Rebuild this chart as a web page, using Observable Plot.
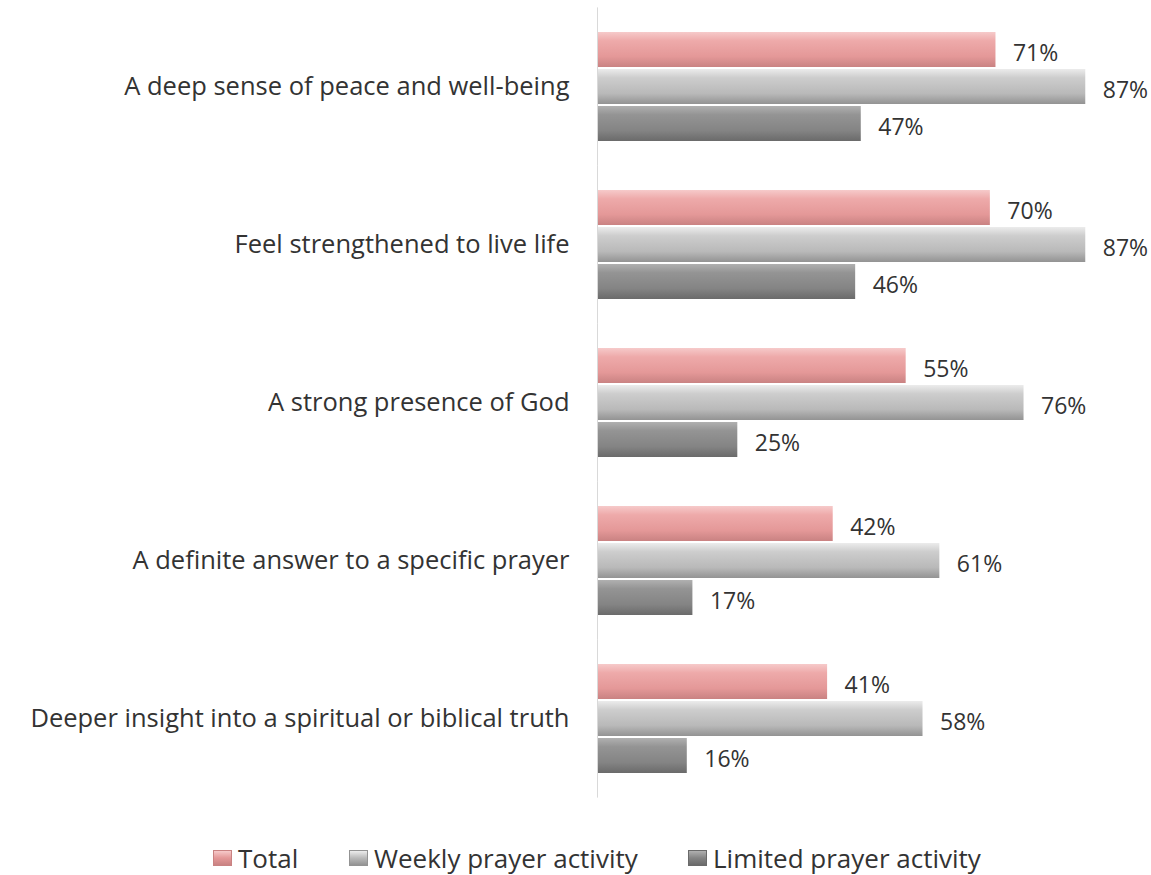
<!DOCTYPE html>
<html>
<head>
<meta charset="utf-8">
<script src="https://cdn.jsdelivr.net/npm/d3@7"></script>
<script src="https://cdn.jsdelivr.net/npm/@observablehq/plot@0.6"></script>
<style>
  html, body { margin: 0; padding: 0; background: #fff; }
  body { width: 1151px; height: 875px; overflow: hidden; font-family: "Open Sans", "Noto Sans", sans-serif; }
  #legend { position: relative; height: 55px; font-size: 26px; color: #333; }
  #legend .item { position: absolute; top: 20px; display: flex; align-items: center; white-space: nowrap; }
  #legend .sw { width: 17px; height: 14px; margin-right: 6px; }
</style>
</head>
<body>
<div id="chart"></div>
<div id="legend"></div>
<script>
const categories = [
  "A deep sense of peace and well-being",
  "Feel strengthened to live life",
  "A strong presence of God",
  "A definite answer to a specific prayer",
  "Deeper insight into a spiritual or biblical truth"
];
const series = ["Total", "Weekly prayer activity", "Limited prayer activity"];
const totalValues = [71, 70, 55, 42, 41];
const weeklyValues = [87, 87, 76, 61, 58];
const limitedValues = [47, 46, 25, 17, 16];

const seriesValues = [totalValues, weeklyValues, limitedValues];
const data = [];
categories.forEach((c, i) => {
  series.forEach((s, j) => data.push({category: c, series: s, value: seriesValues[j][i]}));
});

const gradIds = ["gTotal", "gWeekly", "gLimited"];
const gradStops = [
  ["#f6caca", "#eeaaaa", "#e49898", "#c98282"],
  ["#ececec", "#cdcdcd", "#b9b9b9", "#939393"],
  ["#b0b0b0", "#949494", "#848484", "#6a6a6a"]
];

const chart = Plot.plot({
  width: 1151,
  height: 820,
  marginLeft: 597,
  marginRight: 4,
  marginTop: 7,
  marginBottom: 23,
  style: {fontFamily: "'Open Sans', 'Noto Sans', sans-serif", background: "#fff"},
  x: {domain: [0, 98], axis: null},
  y: {domain: series, axis: null, paddingInner: 0.06, paddingOuter: 0},
  fy: {domain: categories, paddingInner: 0.3, paddingOuter: 0.146, label: null, axis: null},
  color: {domain: series, range: gradIds.map(id => `url(#${id})`)},
  facet: {data, y: "category", label: null},
  marks: [
    Plot.axisFy({anchor: "left", fontSize: 25.5, tickSize: 0, tickPadding: 28, label: null, fill: "#333"}),
    Plot.barX(data, {x: "value", y: "series", fill: "series"}),
    Plot.text(data, {x: "value", y: "series", text: d => d.value + "%", dx: 17, dy: 4, textAnchor: "start", fontSize: 23, fill: "#333"}),
    Plot.ruleX([0], {stroke: "#d9d9d9", strokeWidth: 1, insetTop: -23.6, insetBottom: -23.6})
  ]
});

const svg = d3.select(chart);
const defs = svg.insert("defs", ":first-child");
gradIds.forEach((id, k) => {
  const g = defs.append("linearGradient").attr("id", id).attr("x1", 0).attr("y1", 0).attr("x2", 0).attr("y2", 1);
  const st = gradStops[k];
  [[0, st[0]], [0.25, st[1]], [0.7, st[2]], [1, st[3]]].forEach(([o, c]) => g.append("stop").attr("offset", o).attr("stop-color", c));
});
document.getElementById("chart").appendChild(chart);

const legend = d3.select("#legend");
const legendLeft = [213, 349, 688];
series.forEach((s, k) => {
  const it = legend.append("div").attr("class", "item").style("left", legendLeft[k] + "px");
  it.append("div").attr("class", "sw").style("background", `linear-gradient(${gradStops[k][0]}, ${gradStops[k][2]}, ${gradStops[k][3]})`).style("border", "1px solid " + gradStops[k][3]);
  it.append("span").text(s);
});
</script>
</body>
</html>
